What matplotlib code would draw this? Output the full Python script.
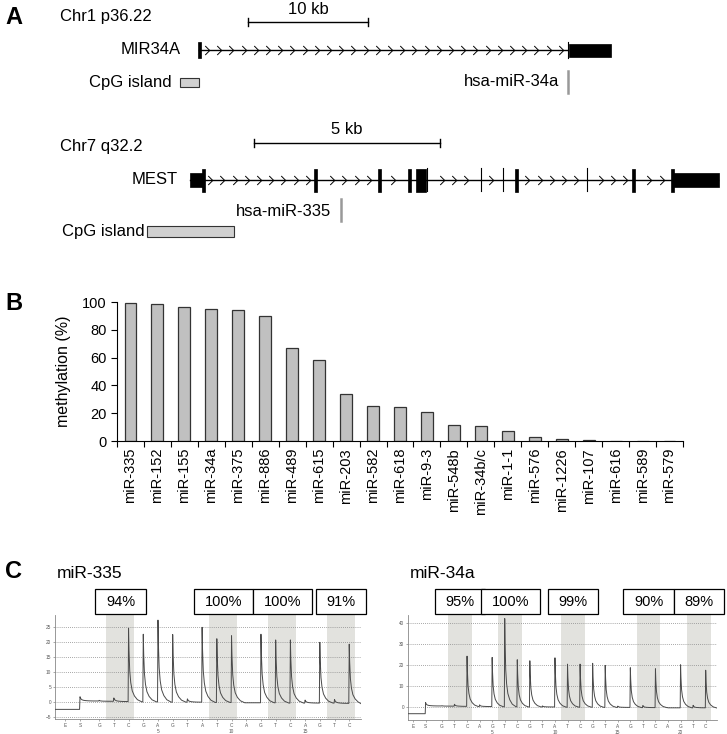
import numpy as np
import matplotlib
matplotlib.use('Agg')
import matplotlib.pyplot as plt
import matplotlib.transforms as mtransforms
from matplotlib.patches import Rectangle
from matplotlib.path import Path

plt.rcParams['font.family'] = ['Liberation Sans', 'DejaVu Sans']

# ---- panel A: gene models (positions in kb from the gene start)
mir34a_span = [0.0, 30.75]
mir34a_utr = [[30.8, 34.3]]
mir34a_cds = [[-0.1, 0.15]]
mir34a_thin = [30.75]
mir34a_cpg = [-1.55, 0.0]
mir34a_mirna = 30.75

mest_span = [0.0, 14.2]
mest_utr = [[0.0, 0.35], [12.96, 14.22]]
mest_cds = [[0.33, 0.4], [3.33, 3.41], [5.05, 5.13], [5.86, 5.94], [6.08, 6.34], [8.73, 8.81], [11.88, 11.96], [12.94, 13.0]]
mest_thin = [6.37, 7.82, 8.41, 10.67]
mest_cpg = [-1.16, 1.18]
mest_mirna = 4.06

# ---- panel B: methylation
mirs = ['miR-335', 'miR-152', 'miR-155', 'miR-34a', 'miR-375', 'miR-886', 'miR-489',
        'miR-615', 'miR-203', 'miR-582', 'miR-618', 'miR-9-3', 'miR-548b', 'miR-34b/c',
        'miR-1-1', 'miR-576', 'miR-1226', 'miR-107', 'miR-616', 'miR-589', 'miR-579']
methylation = [99, 98.5, 96.5, 95, 94.5, 90, 67, 58.5, 34, 25, 24.5, 21, 11.5, 10.5,
               7.5, 3, 1.5, 0.8, 0, 0, 0]

# ---- panel C: pyrograms
disp_335 = list('ESGTCGAGTATCAGTCAGTC')
peak_335 = [0, 1.4, 0.3, 1.2, 24.5, 22.5, 27.3, 22.5, 1.1, 25.0, 21.2, 22.3,
            0.0, 22.8, 21.0, 21.0, 1.0, 20.2, 1.3, 19.8]
base_335 = [-2.4, 0.4, 0.3, 0.2, 0.1, 0.1, 0.0, 0.0, 0.0, -0.1, -0.1, -0.2,
            -0.2, -0.2, -0.3, -0.3, -0.3, -0.3, -0.4, -0.5]
num_idx_335 = [7, 12, 17]
num_lab_335 = ['5', '10', '15']
cpg_t_335 = [4, 11, 15, 19]
pct_335 = ['94%', '100%', '100%', '91%']

disp_34a = list('ESGTCAGTCGTATCGTAGTCAGTC')
peak_34a = [0, 1.6, 0.2, 1.0, 24.0, 0.8, 23.5, 42.0, 22.5, 22.0, 0.5, 23.5,
            20.5, 20.5, 21.0, 20.0, 0.6, 19.0, 1.0, 18.5, 0.0, 20.5, 1.2, 18.0]
base_34a = [-3.2, 0.5, 0.4, 0.3, 0.2, 0.2, 0.1, 0.1, 0.0, 0.0, 0.0, -0.1,
            -0.1, -0.1, -0.2, -0.2, -0.2, -0.3, -0.3, -0.3, -0.4, -0.4, -0.4, -0.5]
num_idx_34a = [7, 12, 17, 22]
num_lab_34a = ['5', '10', '15', '20']
cpg_t_34a = [4, 8, 13, 19, 23]
pct_34a = ['95%', '100%', '99%', '90%', '89%']

# peak decay shape (fraction of a dispensation, relative height)
decay_off = [0.0, 0.03, 0.08, 0.15, 0.25, 0.4, 0.6, 0.9]
decay_rel = [1.0, 0.7, 0.42, 0.26, 0.15, 0.08, 0.03, 0.0]

W, H = 727, 734
fig = plt.figure(figsize=(W / 100, H / 100), dpi=100)


def px_axes(x0, y0, x1, y1):
    return fig.add_axes([x0 / W, 1 - y1 / H, (x1 - x0) / W, (y1 - y0) / H])


# ================= panel A
axa = px_axes(0, 0, W, 290)
axa.set_xlim(0, W)
axa.set_ylim(290, 0)
axa.axis('off')

chev = Path([(-0.5, 1), (0.5, 0), (-0.5, -1)], [Path.MOVETO, Path.LINETO, Path.LINETO])


def gene_row(org, pxkb, y, span, utr, cds, thin, utr_h, cds_h):
    def x(kb):
        return org + np.asarray(kb) * pxkb
    axa.plot(x(span), [y, y], color='k', lw=1)
    edges = [x(a) for a, b in utr + cds] + [x(b) for a, b in utr + cds] + [x(t) for t in thin]
    xs = np.arange(x(span[0]) + 8, x(span[1]) - 3, 12.2)
    xs = [v for v in xs if min(abs(v - e) for e in edges) > 4]
    axa.plot(xs, [y] * len(xs), ls='none', marker=chev, ms=6.5, mfc='none', mec='k', mew=0.7)
    for a, b in utr:
        axa.add_patch(Rectangle((x(a), y - utr_h), x(b) - x(a), 2 * utr_h, fc='k', ec='k', lw=0.5))
    for a, b in cds:
        axa.add_patch(Rectangle((x(a), y - cds_h), x(b) - x(a), 2 * cds_h, fc='k', ec='k', lw=0.5))
    for t in thin:
        axa.plot([x(t)] * 2, [y - cds_h, y + cds_h], color='k', lw=0.8)
    return x


def scale_bar(x0, x1, y, label):
    axa.plot([x0, x1], [y, y], color='k', lw=1)
    axa.plot([x0, x0], [y - 4, y + 4], color='k', lw=1)
    axa.plot([x1, x1], [y - 4, y + 4], color='k', lw=1)
    axa.text((x0 + x1) / 2, y - 13, label, ha='center', va='center', fontsize=12)


fs_a = 12
fig.text(5 / W, 1 - 18 / H, 'A', fontsize=17, fontweight='bold', va='center')

# MIR34A
axa.text(60, 16, 'Chr1 p36.22', fontsize=fs_a, va='center')
xm = gene_row(199, 12.0, 50, mir34a_span, mir34a_utr, mir34a_cds, mir34a_thin, 6.5, 8)
scale_bar(xm(4.08), xm(14.08), 22, '10 kb')
axa.text(181, 50, 'MIR34A', fontsize=fs_a, va='center', ha='right')
axa.text(172, 82, 'CpG island', fontsize=fs_a, va='center', ha='right')
axa.add_patch(Rectangle((xm(mir34a_cpg[0]), 77.5), xm(mir34a_cpg[1]) - xm(mir34a_cpg[0]), 9.5,
                        fc='#d0d0d0', ec='#333333', lw=0.8))
axa.plot([xm(mir34a_mirna)] * 2, [71, 93], color='#999999', lw=1.8)
axa.text(559, 82, 'hsa-miR-34a', fontsize=fs_a, va='center', ha='right')

# MEST
axa.text(60, 147, 'Chr7 q32.2', fontsize=fs_a, va='center')
xg = gene_row(190, 37.2, 180, mest_span, mest_utr, mest_cds, mest_thin, 7, 11.5)
scale_bar(xg(1.72), xg(6.72), 143, '5 kb')
axa.text(178, 180, 'MEST', fontsize=fs_a, va='center', ha='right')
axa.plot([xg(mest_mirna)] * 2, [199, 221], color='#999999', lw=1.8)
axa.text(331, 211, 'hsa-miR-335', fontsize=fs_a, va='center', ha='right')
axa.text(62, 232, 'CpG island', fontsize=fs_a, va='center')
axa.add_patch(Rectangle((xg(mest_cpg[0]), 226.5), xg(mest_cpg[1]) - xg(mest_cpg[0]), 11,
                        fc='#d0d0d0', ec='#333333', lw=0.8))

# ================= panel B
fig.text(5 / W, 1 - 304 / H, 'B', fontsize=17, fontweight='bold', va='center')
axb = px_axes(117, 302, 683, 441)
xb = np.arange(len(mirs))
axb.bar(xb, methylation, width=0.44, color='#c0c0c0', edgecolor='#333333', linewidth=0.9)
axb.set_xlim(-0.5, len(mirs) - 0.5)
axb.set_ylim(0, 100)
axb.set_yticks(np.arange(0, 101, 20))
axb.tick_params(axis='y', labelsize=10.5, length=4, width=0.8)
axb.set_xticks(np.arange(-0.5, len(mirs), 1))
axb.set_xticklabels([])
axb.tick_params(axis='x', which='major', length=4, width=0.8)
axb.set_xticks(xb, minor=True)
axb.set_xticklabels(mirs, minor=True, rotation=90, fontsize=10.5)
axb.tick_params(axis='x', which='minor', length=0, pad=5)
axb.set_ylabel('methylation (%)', fontsize=11.5, labelpad=8)
for s in ['top', 'right']:
    axb.spines[s].set_visible(False)
for s in ['left', 'bottom']:
    axb.spines[s].set_linewidth(0.8)

# ================= panel C
fig.text(5 / W, 1 - 572 / H, 'C', fontsize=17, fontweight='bold', va='center')


def wide_box(x0, y0, width, height, mutation_size):
    px, py = 0.72 * mutation_size, 0.36 * mutation_size
    return Path([(x0 - px, y0 - py), (x0 + width + px, y0 - py),
                 (x0 + width + px, y0 + height + py), (x0 - px, y0 + height + py),
                 (x0 - px, y0 - py)], closed=True)


def pyrogram(box, title, disp, peaks, base, num_idx, num_lab, cpg_t, pct, xlim, ylim, yticks):
    ax = px_axes(*box)
    n = len(disp)
    pos = np.arange(1, n + 1, dtype=float)
    pos[:2] -= 0.3
    # trace
    xs, ys = [xlim[0]], [base[0]]
    level = base[0]
    for i in range(1, n):
        p = pos[i]
        nxt = pos[i + 1] if i + 1 < n else xlim[1]
        xs += [p - 0.03]
        ys += [level]
        for off, r in zip(decay_off, decay_rel):
            if p + off < nxt:
                xs.append(p + off)
                ys.append(base[i] + peaks[i] * r)
        level = base[i]
    xs.append(xlim[1])
    ys.append(level)
    ax.plot(xs, ys, color='#4a4a4a', lw=0.7, zorder=3)
    for t in cpg_t:
        ax.axvspan(pos[t - 1] - 0.5, pos[t] + 0.4, color='#e2e2de', lw=0, zorder=0)
    tr = mtransforms.blended_transform_factory(ax.transData, ax.transAxes)
    for t, s in zip(cpg_t, pct):
        cx = (pos[t - 1] - 0.5 + pos[t] + 0.4) / 2
        ax.text(cx, 1.0 + 13.5 / (box[3] - box[1]), s, transform=tr, ha='center', va='center',
                fontsize=10.5, clip_on=False,
                bbox=dict(boxstyle=wide_box, fc='white', ec='k', lw=0.9))
    ax.set_xlim(*xlim)
    ax.set_ylim(*ylim)
    ax.set_yticks(yticks)
    ax.yaxis.grid(True, linestyle=(0, (1, 1.5)), color='#8a8a8a', lw=0.6)
    labels = []
    for i, d in enumerate(disp):
        lab = d
        if i + 1 in num_idx:
            lab = d + '\n' + num_lab[num_idx.index(i + 1)]
        labels.append(lab)
    ax.set_xticks(pos)
    ax.set_xticklabels(labels, fontsize=3.4, color='#555555', linespacing=1.35, va='top')
    ax.tick_params(axis='both', length=1.5, width=0.5, colors='#888888', labelsize=3.4,
                   labelcolor='#555555', pad=1.2)
    for s in ['top', 'right']:
        ax.spines[s].set_visible(False)
    for s in ['left', 'bottom']:
        ax.spines[s].set_linewidth(0.6)
        ax.spines[s].set_color('#888888')
    fig.text(box[0] / W + 2 / W, 1 - 573 / H, title, fontsize=12.5, va='center')
    return ax


pyrogram((55, 615, 361, 719), 'miR-335', disp_335, peak_335, base_335, num_idx_335,
         num_lab_335, cpg_t_335, pct_335, (0.0, 20.8), (-5.6, 29), [-5, 0, 5, 10, 15, 20, 25])
pyrogram((408, 615, 717, 720), 'miR-34a', disp_34a, peak_34a, base_34a, num_idx_34a,
         num_lab_34a, cpg_t_34a, pct_34a, (0.3, 24.9), (-6.2, 43.8), [0, 10, 20, 30, 40])

fig.savefig('out.png', dpi=100)
